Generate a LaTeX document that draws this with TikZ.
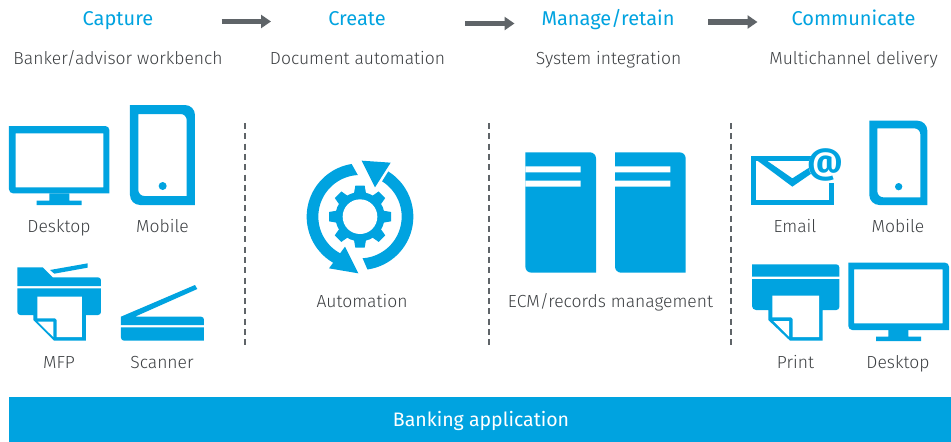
\documentclass[tikz,border=0pt]{standalone}
\usepackage{fontspec}
\setmainfont{Fira Sans Light}
\newfontfamily\regfont{Fira Sans}
\newfontfamily\atfont{Fira Sans Bold}
\usetikzlibrary{arrows.meta}
\definecolor{hpblue}{HTML}{00A3E0}
\definecolor{hpgray}{HTML}{5F6468}
\definecolor{hptext}{HTML}{3C3F42}
\tikzset{
  title/.style={text=hpblue,font=\regfont\fontsize{20}{24}\selectfont,inner sep=0pt,anchor=base},
  sub/.style={text=hptext,font=\fontsize{17.5}{21}\selectfont,inner sep=0pt,anchor=base},
  lab/.style={text=hptext,font=\fontsize{17.5}{21}\selectfont,inner sep=0pt,anchor=base},
  icon/.style={fill=hpblue,draw=none},
  flowarrow/.style={draw=hpgray,line width=5.5pt,-{Triangle[length=10pt,width=13pt]}},
  divider/.style={draw=hpgray,line width=1.7pt,dash pattern=on 6pt off 4.3pt},
  zoomed/.style={shift={(#1)},scale=1/3},
  rc/.style={rounded corners=#1},
}
\begin{document}
\begin{tikzpicture}[x=1pt,y=-1pt]
\useasboundingbox (0,0) rectangle (951,442);
\fill[white] (0,0) rectangle (951,442);

% Header
\node[title] (capture) at (118,25) {Capture};
\node[title] (create) at (357,25) {Create};
\node[title] (manage) at (608,25) {Manage/retain};
\node[title] (communicate) at (853.5,25) {Communicate};
\node[sub] (bank) at (118,64) {Banker/advisor workbench};
\node[sub] (doc) at (357.5,64) {Document automation};
\node[sub] (sys) at (608.5,64) {System integration};
\node[sub] (multi) at (853.5,64) {Multichannel delivery};

\coordinate (a1s) at (221.5,21.5); \coordinate (a1e) at (271,21.5);
\coordinate (a2s) at (465,23.5); \coordinate (a2e) at (514.5,23.5);
\coordinate (a3s) at (708,22); \coordinate (a3e) at (757.5,22);
\draw[flowarrow] (a1s) -- (a1e);
\draw[flowarrow] (a2s) -- (a2e);
\draw[flowarrow] (a3s) -- (a3e);

% Dividers
\coordinate (d1t) at (245,123); \coordinate (d1b) at (245,346);
\coordinate (d2t) at (489,123); \coordinate (d2b) at (489,346);
\coordinate (d3t) at (731,123); \coordinate (d3b) at (731,346);
\draw[divider] (d1t) -- (d1b);
\draw[divider] (d2t) -- (d2b);
\draw[divider] (d3t) -- (d3b);

% Left group (coordinates of the 3x crop at 0,90)
\begin{scope}[zoomed={0,90}]
  % desktop
  \fill[icon,even odd rule] (27,108) [rc=4pt] -- (328,108) [sharp corners] -- (328,310) [rc=4pt] -- (27,310) [sharp corners] -- cycle
     (47,130) rectangle (310,292);
  \fill[icon] (148,310) rectangle (208,332) (110,332) rectangle (245,345);
  % mobile
  \fill[icon,even odd rule] (390,45) [rc=10pt] -- (585,45) [sharp corners] -- (585,345) [rc=10pt] -- (390,345) [sharp corners] -- cycle
     (415,72) [rc=6pt] -- (560,72) [sharp corners] -- (560,318) [rc=6pt] -- (415,318) [sharp corners] -- cycle;
  \fill[icon] (488,288) circle (12);
  % MFP
  \fill[icon] (52,532) -- (128,532) -- (158,562) [rc=3pt] -- (303,562) [sharp corners] -- (303,588) -- (52,588) -- cycle;
  \fill[icon] (150,540) -- (263,520) -- (263,533) -- (163,551) -- cycle;
  \fill[icon] (52,595) -- (303,595) [rc=3pt] -- (303,675) [sharp corners] -- (258,675) -- (258,752) -- (162,752) -- (100,690) -- (100,675) [rc=3pt] -- (52,675) [sharp corners] -- cycle;
  \fill[white] (112,620) -- (246,620) -- (246,741) -- (170,741) [rc=2pt] -- (170,685) [sharp corners] -- (112,685) -- cycle;
  \fill[white] (113,695) -- (160,695) -- (160,741) -- cycle;
  % scanner
  \fill[icon] (363,680) -- (585,585) -- (592,597) -- (405,680) [rc=3pt] -- (612,680) [sharp corners] -- (612,705) -- (363,705) -- cycle;
  \fill[icon] (363,712) -- (612,712) -- (612,752) [rc=3pt] -- (363,752) [sharp corners] -- cycle;
\end{scope}
\node[lab] (desk1) at (59,232) {Desktop};
\node[lab] (mob1) at (162.5,232) {Mobile};
\node[lab] (mfp) at (59,368.5) {MFP};
\node[lab] (scan) at (162,368.5) {Scanner};

% Automation
\begin{scope}[zoomed={290,140}]
  \fill[icon] plot[domain=-99:-242,samples=50] ({210+160*cos(\x)},{230+160*sin(\x)})
     -- plot[domain=-242:-93,samples=50] ({210+125*cos(\x)},{230+125*sin(\x)}) -- cycle;
  \fill[icon] (117,385) -- (165,320) -- (205,400) -- cycle;
  \fill[icon] plot[domain=-278:-418,samples=50] ({210+160*cos(\x)},{230+160*sin(\x)})
     -- plot[domain=-418:-273.6,samples=50] ({210+125*cos(\x)},{230+125*sin(\x)}) -- cycle;
  \fill[icon] (215,62) -- (302,68) -- (255,142) -- cycle;
  \fill[icon] (210,230) circle (74);
  \foreach \a in {0,45,...,315}
    \fill[icon,rotate around={\a:(210,230)}] (192,160) -- (196,137) -- (224,137) -- (228,160) -- cycle;
  \fill[white] (210,230) circle (52);
\end{scope}
\node[lab] (auto) at (362,307) {Automation};

% Servers
\begin{scope}[zoomed={510,140}]
  \foreach \dx in {0,269}{
    \fill[icon] (46+\dx,37) [rc=6pt] -- (258+\dx,37) [sharp corners] -- (258+\dx,398) [rc=6pt] -- (46+\dx,398) [sharp corners] -- cycle;
    \fill[white] (46+\dx,79) rectangle (212+\dx,97) (46+\dx,122) rectangle (212+\dx,140);
  }
\end{scope}
\node[lab] (ecm) at (610.5,307) {ECM/records management};

% Right group (coordinates of the 3x crop at 740,110)
\begin{scope}[zoomed={740,110}]
  % email
  \fill[icon] (33,138) rectangle (215,152);
  \fill[icon] (33,138) rectangle (47,285);
  \fill[icon] (33,271) rectangle (282,285);
  \fill[icon] (268,218) rectangle (282,285);
  \fill[icon] (47,148) -- (75,148) -- (157,205) -- (212,170) -- (218,188) -- (157,230) -- cycle;
  \fill[white] (256,166) circle (50);
  \node[text=hpblue,inner sep=0pt,font=\atfont\fontsize{35}{36}\selectfont] (at) at (257,166) {@};
  % mobile
  \fill[icon,even odd rule] (388,32) [rc=10pt] -- (562,32) [sharp corners] -- (562,285) [rc=10pt] -- (388,285) [sharp corners] -- cycle
     (412,55) [rc=6pt] -- (541,55) [sharp corners] -- (541,262) [rc=6pt] -- (412,262) [sharp corners] -- cycle;
  \fill[icon] (476,230) circle (11);
  % print
  \fill[icon] (36,463) [rc=3pt] -- (298,463) [sharp corners] -- (298,500) -- (36,500) -- cycle;
  \fill[icon] (36,507) -- (298,507) [rc=3pt] -- (298,600) [sharp corners] -- (248,600) -- (248,692) -- (150,692) -- (85,630) -- (85,600) [rc=4pt] -- (36,600) [sharp corners] -- cycle;
  \fill[white] (97,557) -- (237,557) -- (237,681) -- (158,681) [rc=2pt] -- (158,622) [sharp corners] -- (97,622) -- cycle;
  \fill[white] (100,633) -- (147,633) -- (147,680) -- cycle;
  % desktop
  \fill[icon,even odd rule] (325,458) [rc=4pt] -- (627,458) [sharp corners] -- (627,660) [rc=4pt] -- (325,660) [sharp corners] -- cycle
     (342,478) rectangle (608,640);
  \fill[icon] (445,660) rectangle (505,680) (408,680) rectangle (543,693);
\end{scope}
\node[lab] (email) at (795,232) {Email};
\node[lab] (mob2) at (898,232) {Mobile};
\node[lab] (print) at (795.5,368.5) {Print};
\node[lab] (desk2) at (898,368.5) {Desktop};

% Banner
\node[fill=hpblue,minimum width=942pt,minimum height=45pt,inner sep=0pt,anchor=north west] (banner) at (9,397) {};
\node[text=white,font=\regfont\fontsize{19.5}{24}\selectfont,inner sep=0pt,anchor=base] (bankapp) at (481,426) {Banking application};
\end{tikzpicture}
\end{document}
